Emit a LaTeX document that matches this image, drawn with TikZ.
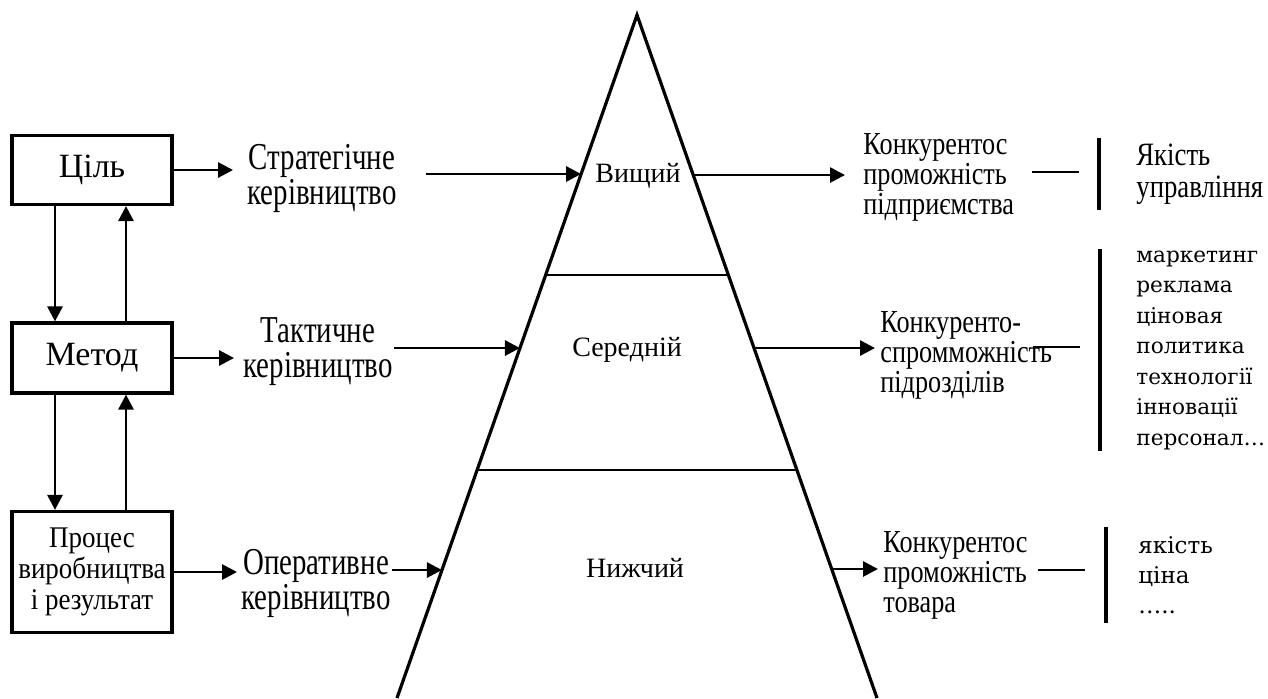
\documentclass[tikz,border=0pt]{standalone}
\usepackage{fontspec}
\setmainfont{Liberation Serif}
\newfontfamily\narrowfont[FakeStretch=0.76]{Liberation Serif}
\newfontfamily\slimfont[FakeStretch=0.82]{Liberation Serif}
\newfontfamily\boxfont[FakeStretch=0.9]{Liberation Serif}
\newfontfamily\listfont{DejaVu Serif}
\usetikzlibrary{arrows.meta,calc}

\begin{document}
\begin{tikzpicture}[x=0.5pt, y=-0.5pt, line width=1.4pt,
  font=\fontsize{14}{15}\selectfont,
  box/.style={draw, line width=1.6pt, minimum width=80pt, minimum height=34.5pt, align=center, inner sep=0pt, font=\fontsize{17}{17}\selectfont},
  mid/.style={align=center, inner sep=0pt},
  lefttxt/.style={mid, font=\narrowfont\fontsize{19}{17.5}\selectfont},
  side/.style={align=left, anchor=west, inner sep=0pt, font=\slimfont\fontsize{16}{15}\selectfont},
  list/.style={align=left, anchor=west, inner sep=0pt, font=\listfont\fontsize{10.8}{15.25}\selectfont},
  arr/.style={-{Triangle[length=7.5pt,width=7.5pt]}}]
\useasboundingbox (0,0) rectangle (1268,698);

\node[box] (goal) at (92,170) {Ціль};
\node[box, minimum height=35pt] (method) at (92,358) {Метод};
\node[box, minimum height=60.5pt, font=\boxfont\fontsize{15}{15.5}\selectfont] (process) at (92,572) {Процес\\виробництва\\і результат};

\draw[arr] ([xshift=-18.5pt]goal.south) -- ([xshift=-18.5pt]method.north);
\draw[arr] ([xshift=17pt]method.north) -- ([xshift=17pt]goal.south);
\draw[arr] ([xshift=-18.5pt]method.south) -- ([xshift=-18.5pt]process.north);
\draw[arr] ([xshift=17pt]process.north) -- ([xshift=17pt]method.south);

\node[lefttxt] (strat) at (322,178) {Стратегічне\\керівництво};
\node[lefttxt] (tact) at (318,352) {Тактичне\\керівництво};
\node[lefttxt] (oper) at (316,583) {Оперативне\\керівництво};

\draw[arr, shorten >=6.5pt] (goal.east) -- (goal.east -| strat.west);
\draw[arr, shorten >=4pt] (method.east) -- (method.east -| tact.west);
\draw[arr, shorten >=1.5pt] (process.east) -- (process.east -| oper.west);

\coordinate (apex) at (637,15);
\coordinate (bl) at (397,698);
\coordinate (br) at (877,698);
\draw[line width=1.6pt] (bl) -- (apex) -- (br);
\draw[line width=1.1pt] ($(apex)!0.3807!(bl)$) -- ($(apex)!0.3807!(br)$);
\draw[line width=1.1pt] ($(apex)!0.6662!(bl)$) -- ($(apex)!0.6662!(br)$);

\coordinate (w1) at ($(apex)!0.2328!(bl)$);
\coordinate (w2) at ($(apex)!0.4876!(bl)$);
\coordinate (w3) at ($(apex)!0.8126!(bl)$);
\coordinate (e1) at ($(apex)!0.2343!(br)$);
\coordinate (e2) at ($(apex)!0.4876!(br)$);
\coordinate (e3) at ($(apex)!0.8111!(br)$);

\node[mid] (top) at (638,176) {Вищий};
\node[mid] (middle) at (627,350) {Середній};
\node[mid] (bottom) at (635,568) {Нижчий};

\draw[arr, shorten <=14pt] (strat.east |- w1) -- (w1);
\draw[arr] (tact.east |- w2) -- (w2);
\draw[arr] (oper.east |- w3) -- (w3);

\node[side] (compA) at (862,177) {Конкурентос\\проможність\\підприємства};
\node[side] (compB) at (879,355) {Конкуренто-\\спромможність\\підрозділів};
\node[side] (compC) at (882,575) {Конкурентос\\проможність\\товара};

\draw[arr, shorten >=8.5pt] (e1) -- (e1 -| compA.west);
\draw[arr, shorten >=2pt] (e2) -- (e2 -| compB.west);
\draw[arr, shorten >=2pt] (e3) -- (e3 -| compC.west);

\node[side, font=\slimfont\fontsize{16.3}{16}\selectfont] (qualA) at (1135,174) {Якість\\управління};
\node[list] (qualB) at (1135,350) {маркетинг\\реклама\\ціновая\\политика\\технології\\інновації\\персонал…};
\node[list, font=\listfont\fontsize{11.5}{15}\selectfont] (qualC) at (1137,575) {якість\\ціна\\…..};

\coordinate (dA1) at (1032,172);
\coordinate (dA2) at (1079,172);
\coordinate (dB1) at (1033,347);
\coordinate (dB2) at (1080,347);
\coordinate (dC1) at (1038,570);
\coordinate (dC2) at (1085,570);
\draw (dA1) -- (dA2);
\draw (dB1) -- (dB2);
\draw (dC1) -- (dC2);

\draw[line width=1.6pt] ([xshift=-18pt,yshift=2pt]qualA.north west) -- ([xshift=-18pt,yshift=-2pt]qualA.south west);
\draw[line width=1.6pt] ([xshift=-17.5pt]qualB.north west) -- ([xshift=-17.5pt]qualB.south west);
\draw[line width=1.6pt] ([xshift=-15.5pt,yshift=4pt]qualC.north west) -- ([xshift=-15.5pt,yshift=-4pt]qualC.south west);
\end{tikzpicture}
\end{document}
